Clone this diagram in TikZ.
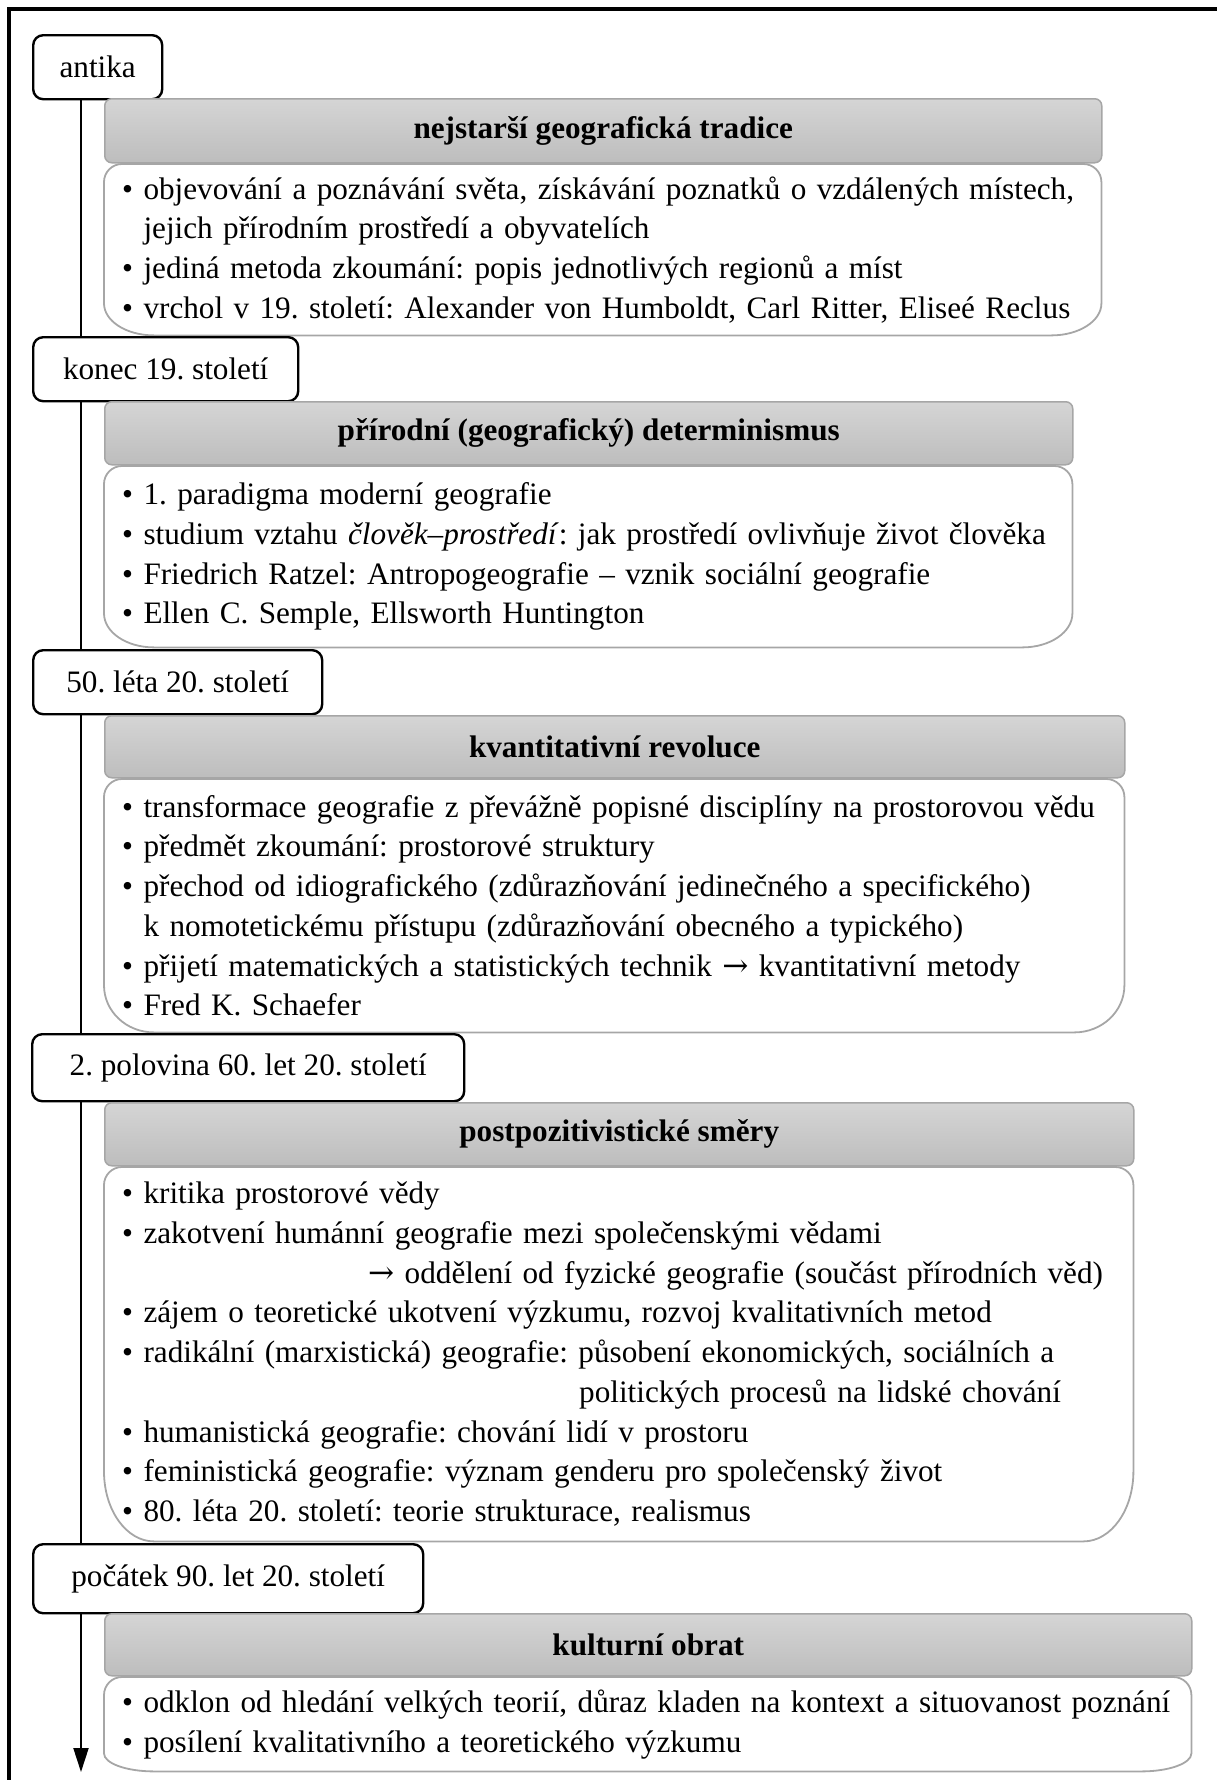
\documentclass[tikz,border=0pt]{standalone}
\usepackage{fontspec}
\setmainfont{Liberation Serif}
\newfontfamily\arrowfont{DejaVu Serif}
\usetikzlibrary{arrows.meta,backgrounds}
\definecolor{headtop}{RGB}{213,213,213}
\definecolor{headbot}{RGB}{189,189,189}
\definecolor{edgegrey}{RGB}{166,166,166}
\newcommand{\boxfont}{\fontsize{31.2}{39.7}\selectfont\frenchspacing}
\newcommand{\ind}{\phantom{\textbullet\ }}
\newcommand{\toarrow}{{\arrowfont →}}
\newcommand{\bodyshape}[2]{%
  \draw[bodyedge] ([yshift=-18pt]#1.north west) arc[start angle=180, end angle=90, radius=18pt]
    -- ([xshift=-18pt]#1.north east) arc[start angle=90, end angle=0, radius=18pt]
    -- ([yshift=#2]#1.south east) arc[start angle=0, end angle=-90, x radius=50pt, y radius=#2]
    -- ([xshift=50pt]#1.south west) arc[start angle=270, end angle=180, x radius=50pt, y radius=#2]
    -- cycle;}
\begin{document}
\begin{tikzpicture}[x=1pt, y=-1pt,
    datebox/.style={draw, line width=2.4pt, rounded corners=10pt, fill=white,
      inner sep=0pt, anchor=north west, font=\boxfont},
    headbox/.style={draw=edgegrey, line width=1.5pt, rounded corners=7pt,
      top color=headtop, bottom color=headbot, inner sep=0pt,
      anchor=north west, font=\boxfont\bfseries},
    bodybox/.style={anchor=north west, inner xsep=18pt, inner ysep=0pt,
      align=left, font=\boxfont},
    bodyedge/.style={draw=edgegrey, line width=1.8pt},
    timeline/.style={line width=2pt, -{Triangle[length=24pt, width=15pt]}}]
  \useasboundingbox (0,0) rectangle (1217,1780);
  \draw[line width=4.3pt] (1217,9) -- (9,9) -- (9,1780);

  \node[datebox, minimum width=129pt, minimum height=64pt] (antika) at (32,34) {antika};
  \node[headbox, minimum width=997pt, minimum height=64pt] (head1) at (104,98)
    {nejstarší geografická tradice};
  \node[bodybox, text width=961pt, minimum height=171pt] (body1) at (104,164)
    {\textbullet\ objevování a poznávání světa, získávání poznatků o vzdálených místech,\\
     \ind jejich přírodním prostředí a obyvatelích\\
     \textbullet\ jediná metoda zkoumání: popis jednotlivých regionů a míst\\
     \textbullet\ vrchol v 19. století: Alexander von Humboldt, Carl Ritter, Eliseé Reclus};
  \bodyshape{body1}{32pt}

  \node[datebox, minimum width=265pt, minimum height=64pt] (konec) at (32,336) {konec 19. století};
  \node[headbox, minimum width=968pt, minimum height=63pt] (head2) at (104,401)
    {přírodní (geografický) determinismus};
  \node[bodybox, text width=932pt, minimum height=181pt] (body2) at (104,466)
    {\textbullet\ 1. paradigma moderní geografie\\
     \textbullet\ studium vztahu \textit{člověk–prostředí}: jak prostředí ovlivňuje život člověka\\
     \textbullet\ Friedrich Ratzel: Antropogeografie – vznik sociální geografie\\
     \textbullet\ Ellen C. Semple, Ellsworth Huntington};
  \bodyshape{body2}{34pt}

  \node[datebox, minimum width=289pt, minimum height=64pt] (leta50) at (32,649) {50. léta 20. století};
  \node[headbox, minimum width=1020pt, minimum height=62pt] (head3) at (104,715)
    {kvantitativní revoluce};
  \node[bodybox, text width=984pt, minimum height=253pt] (body3) at (104,779)
    {\textbullet\ transformace geografie z převážně popisné disciplíny na prostorovou vědu\\
     \textbullet\ předmět zkoumání: prostorové struktury\\
     \textbullet\ přechod od idiografického (zdůrazňování jedinečného a specifického)\\
     \ind k nomotetickému přístupu (zdůrazňování obecného a typického)\\
     \textbullet\ přijetí matematických a statistických technik \toarrow{} kvantitativní metody\\
     \textbullet\ Fred K. Schaefer};
  \bodyshape{body3}{47pt}

  \node[datebox, minimum width=432pt, minimum height=67pt] (polovina60) at (31,1033)
    {2. polovina 60. let 20. století};
  \node[headbox, minimum width=1029pt, minimum height=63pt] (head4) at (104,1102)
    {postpozitivistické směry};
  \node[bodybox, text width=993pt, minimum height=374pt] (body4) at (104,1167)
    {\textbullet\ kritika prostorové vědy\\
     \textbullet\ zakotvení humánní geografie mezi společenskými vědami\\
     \hspace*{246pt}\toarrow{} oddělení od fyzické geografie (součást přírodních věd)\\
     \textbullet\ zájem o teoretické ukotvení výzkumu, rozvoj kvalitativních metod\\
     \textbullet\ radikální (marxistická) geografie: působení ekonomických, sociálních a\\
     \hspace*{457pt}politických procesů na lidské chování\\
     \textbullet\ humanistická geografie: chování lidí v prostoru\\
     \textbullet\ feministická geografie: význam genderu pro společenský život\\
     \textbullet\ 80. léta 20. století: teorie strukturace, realismus};
  \bodyshape{body4}{70pt}

  \node[datebox, minimum width=390pt, minimum height=69pt] (pocatek90) at (32,1543)
    {počátek 90. let 20. století};
  \node[headbox, minimum width=1087pt, minimum height=62pt] (head5) at (104,1613)
    {kulturní obrat};
  \node[bodybox, text width=1051pt, minimum height=94pt] (body5) at (104,1677)
    {\textbullet\ odklon od hledání velkých teorií, důraz kladen na kontext a situovanost poznání\\
     \textbullet\ posílení kvalitativního a teoretického výzkumu};
  \bodyshape{body5}{18pt}

  \coordinate (tlend) at (81,1772);
  \begin{pgfonlayer}{background}
    \draw[timeline] (antika.south -| tlend) -- (tlend);
  \end{pgfonlayer}
\end{tikzpicture}
\end{document}
